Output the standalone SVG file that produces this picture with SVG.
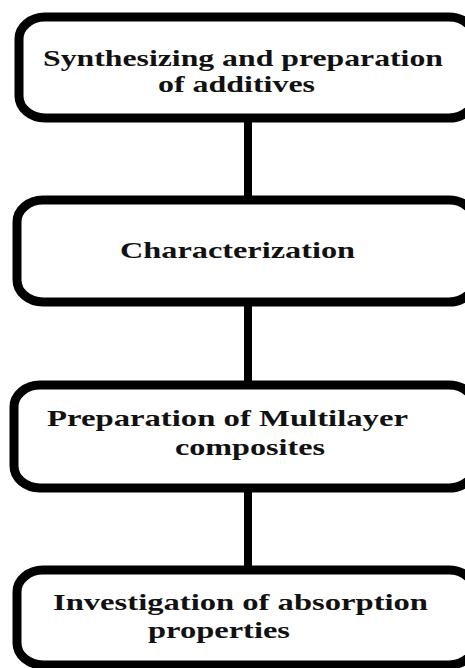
<svg xmlns="http://www.w3.org/2000/svg" width="465" height="668" viewBox="0 0 465 668">
<style>
.box{fill:#fff;stroke:#000;stroke-width:9}
.t{font-family:"Liberation Serif","Times New Roman",serif;font-weight:bold;font-size:24px;fill:#111}
.c{stroke:#000;stroke-width:8;fill:none}
</style>
<rect width="465" height="668" fill="#fff"/>
<g id="connectors">
<line class="c" x1="248" y1="120" x2="248" y2="198"/>
<line class="c" x1="248" y1="304" x2="248" y2="383"/>
<line class="c" x1="248" y1="490" x2="248" y2="568"/>
</g>
<g id="node1">
<rect class="box" x="19" y="17" width="456" height="101" rx="26" ry="22"/>
<text class="t" x="43" y="66" textLength="400" lengthAdjust="spacingAndGlyphs">Synthesizing and preparation</text>
<text class="t" x="158" y="92" textLength="157" lengthAdjust="spacingAndGlyphs">of additives</text>
</g>
<g id="node2">
<rect class="box" x="17" y="200" width="458" height="102" rx="26" ry="22"/>
<text class="t" x="120" y="258" textLength="235" lengthAdjust="spacingAndGlyphs">Characterization</text>
</g>
<g id="node3">
<rect class="box" x="14" y="385" width="461" height="103" rx="26" ry="22"/>
<text class="t" x="47" y="426" textLength="361" lengthAdjust="spacingAndGlyphs">Preparation of Multilayer</text>
<text class="t" x="175" y="455" textLength="150" lengthAdjust="spacingAndGlyphs">composites</text>
</g>
<g id="node4">
<rect class="box" x="17" y="570" width="458" height="95" rx="26" ry="22"/>
<text class="t" x="53" y="610" textLength="375" lengthAdjust="spacingAndGlyphs">Investigation of absorption</text>
<text class="t" x="148" y="638" textLength="142" lengthAdjust="spacingAndGlyphs">properties</text>
</g>
</svg>
